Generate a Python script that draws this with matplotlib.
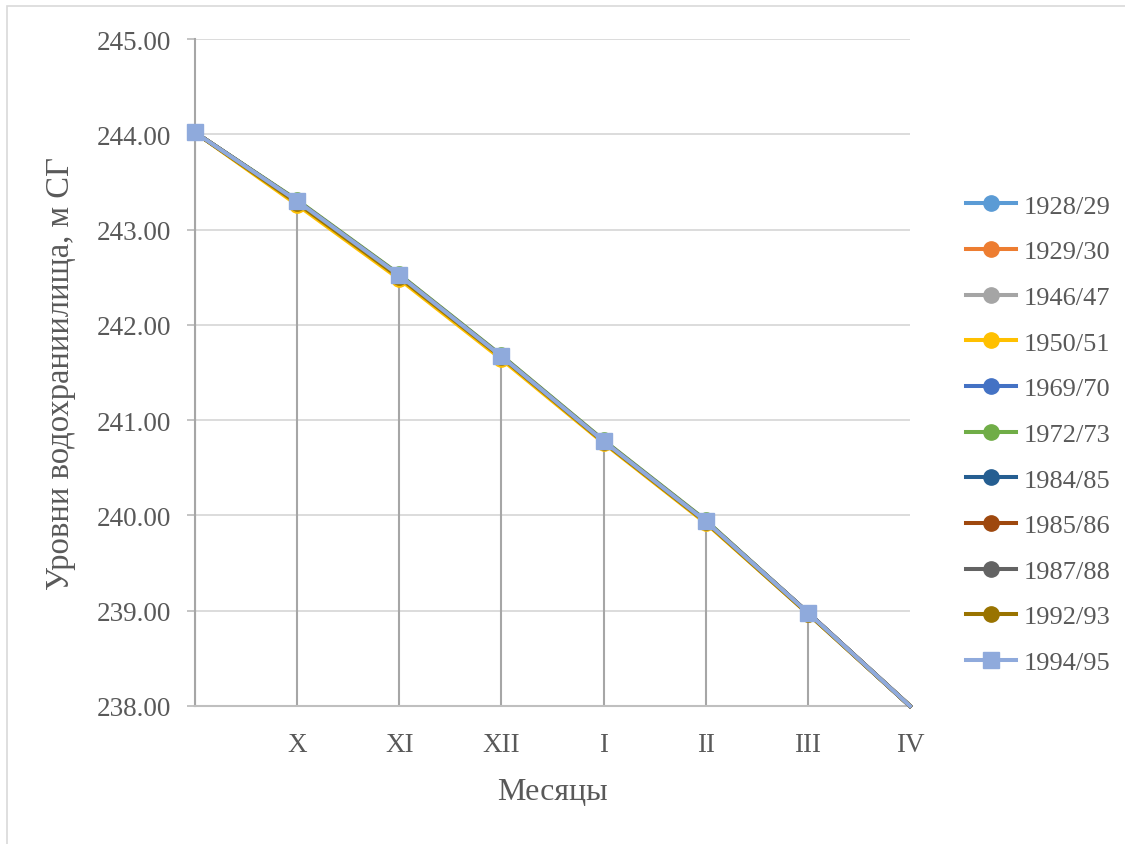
import matplotlib
matplotlib.use("Agg")
import matplotlib.pyplot as plt
from matplotlib.lines import Line2D

plt.rcParams['font.family'] = ['Liberation Serif', 'DejaVu Serif']

months = ["", "X", "XI", "XII", "I", "II", "III", "IV"]

s1928 = [244.02, 243.30, 242.52, 241.67, 240.78, 239.94, 238.98, 238.00]
s1929 = [244.02, 243.30, 242.52, 241.67, 240.78, 239.94, 238.98, 238.00]
s1946 = [244.02, 243.30, 242.52, 241.67, 240.78, 239.94, 238.98, 238.00]
s1950 = [244.02, 243.26, 242.48, 241.64, 240.76, 239.92, 238.97, 238.00]
s1969 = [244.02, 243.30, 242.52, 241.67, 240.78, 239.94, 238.98, 238.00]
s1972 = [244.02, 243.31, 242.53, 241.68, 240.79, 239.95, 238.98, 238.00]
s1984 = [244.02, 243.30, 242.52, 241.67, 240.78, 239.94, 238.98, 238.00]
s1985 = [244.02, 243.30, 242.52, 241.67, 240.78, 239.94, 238.98, 238.00]
s1987 = [244.02, 243.30, 242.52, 241.67, 240.78, 239.94, 238.98, 238.00]
s1992 = [244.02, 243.28, 242.50, 241.66, 240.77, 239.93, 238.97, 238.00]
s1994 = [244.02, 243.30, 242.52, 241.67, 240.78, 239.94, 238.98, 238.00]

series_names = ["1928/29", "1929/30", "1946/47", "1950/51", "1969/70", "1972/73",
                "1984/85", "1985/86", "1987/88", "1992/93", "1994/95"]
series_values = [s1928, s1929, s1946, s1950, s1969, s1972,
                 s1984, s1985, s1987, s1992, s1994]
series_colors = ["#5B9BD5", "#ED7D31", "#A5A5A5", "#FFC000", "#4472C4", "#70AD47",
                 "#255E91", "#9E480E", "#636363", "#997300", "#8FAADC"]
series_markers = ["o"] * 10 + ["s"]

y_min, y_max = 238.0, 245.0
text_color = "#595959"

fig = plt.figure(figsize=(11.25, 8.45), dpi=100)
ax = fig.add_axes([195 / 1125, 1 - 707 / 845, 715 / 1125, 667 / 845])

# outer chart frame
fig.add_artist(plt.Rectangle((7 / 1125, -0.1), 1.2, 1 - 7 / 845 + 0.1,
                             transform=fig.transFigure, fill=False,
                             edgecolor="#d9d9d9", lw=1.2))

x = list(range(len(months)))

# horizontal gridlines
ax.set_ylim(y_min, y_max)
ax.set_xlim(0, len(months) - 1)
ax.set_yticks([238, 239, 240, 241, 242, 243, 244, 245])
ax.yaxis.grid(True, color="#d9d9d9", lw=1.3)
ax.set_axisbelow(True)

# drop lines from the highest series value down to the axis
tops = [max(vals[i] for vals in series_values) for i in x]
ax.vlines(x, y_min, tops, colors="#a6a6a6", lw=1.5, zorder=2)

# markers on every month except the final point sitting on the axis floor
marked = list(range(len(months) - 1))
for name, vals, col, mk in zip(series_names, series_values, series_colors, series_markers):
    ax.plot(x, vals, color=col, lw=2.9, marker=mk, markersize=11, markevery=marked,
            markeredgecolor=col, label=name, zorder=3, clip_on=False)

for side in ["top", "right"]:
    ax.spines[side].set_visible(False)
ax.spines["left"].set_color("#a6a6a6")
ax.spines["left"].set_linewidth(1.5)
ax.spines["bottom"].set_color("#bfbfbf")
ax.spines["bottom"].set_linewidth(1.5)

ax.set_xticks(x)
ax.set_xticklabels(months)
ax.yaxis.set_major_formatter(matplotlib.ticker.FormatStrFormatter("%.2f"))
ax.tick_params(axis="x", length=0, pad=19, labelsize=19.5, labelcolor=text_color)
ax.tick_params(axis="y", length=6, width=1.3, color="#bfbfbf", pad=11,
               labelsize=19.5, labelcolor=text_color)

ax.set_xlabel("Месяцы", fontsize=23, color=text_color, labelpad=14)
ax.set_ylabel("Уровни водохраниилища, м СГ", fontsize=23.5, color=text_color, labelpad=15)

handles = [Line2D([0], [0], color=c, lw=2.9, marker=m, markersize=11, markeredgecolor=c)
           for c, m in zip(series_colors, series_markers)]
fig.legend(handles, series_names, loc="center left", bbox_to_anchor=(0.847, 0.485),
           frameon=False, fontsize=19, labelcolor=text_color, handlelength=1.9,
           handletextpad=0.3, labelspacing=0.84, borderpad=0)

fig.savefig("out.png", dpi=100)
